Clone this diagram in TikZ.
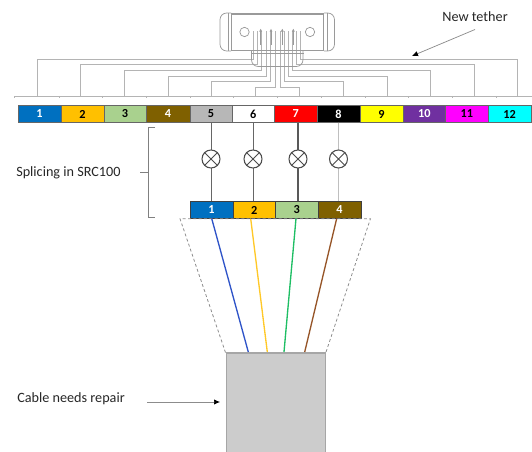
\documentclass[tikz,border=0pt]{standalone}
\usepackage{fontspec}
\setmainfont{Carlito}
\usetikzlibrary{arrows.meta,shapes.misc}
\definecolor{tline}{HTML}{B4B4B4}
\definecolor{conn}{HTML}{9A9A9A}
\definecolor{txt}{HTML}{262626}
\tikzset{
  cell/.style={draw=#1,line width=0.7pt,inner sep=0pt,minimum height=12.2pt,font=\fontsize{9.2}{10}\selectfont\bfseries},
  tether/.style={draw=tline,line width=0.55pt},
  body/.style={draw=conn,line width=0.55pt},
  ringnode/.style={draw=black!70,line width=0.8pt,circle,minimum size=13.5pt,inner sep=0pt},
  label/.style={font=\fontsize{10.65}{12}\selectfont,text=txt,inner sep=0pt},
  wire/.style={line width=1pt},
  dashbox/.style={draw=black!45,line width=0.6pt,dash pattern=on 2.2pt off 1.8pt},
  pointer/.style={draw=black!45,line width=0.55pt,-{Latex[length=4.5pt,width=4pt,black]}}
}
\begin{document}
\begin{tikzpicture}[x=0.75pt,y=-0.75pt]
\useasboundingbox (0,0) rectangle (532,452);
% tether rail
\coordinate (railL) at (14,96);
\coordinate (railR) at (532,96);
\draw[tether] (railL) -- (railR);
\foreach \x in {14,59,102,146,190,233,277,321,365,408,452,496}
  \draw[tether] (\x,96) -- (\x,98.5);
% tether lines
\foreach \i/\xd/\yh/\xp in {
  1/37/59/253.3, 2/80/64.5/257.3, 3/124/70/261.7, 4/168/76/266.7, 5/211/81/270.7, 6/255/87/275,
  7/299/87/280, 8/343/81/284, 9/387/76/288.3, 10/430/70/292.7, 11/474/64.5/296.7, 12/517/59/300.7}{
  \coordinate (d\i) at (\xd,96);
  \coordinate (p\i) at (\xp,31);
  \draw[tether] (d\i) -- (\xd,\yh) -- (\xp,\yh) -- (p\i);
}
% connector
\draw[body] (231,13) -- (324,13) (231,14.2) -- (324,14.2);
\draw[body,rounded corners=5pt] (231,13) -- (220,13) -- (220,51) -- (231,51);
\draw[body,rounded corners=5pt] (324,13) -- (334.5,13) -- (334.5,51) -- (324,51);
\draw[body] (228,13) -- (228,51) (231.5,13) -- (231.5,51);
\draw[body] (323.5,13) -- (323.5,51) (327,13) -- (327,51);
\draw[body] (231,50.5) -- (324,50.5) (251,53.3) -- (304,53.3);
\draw[body,rounded corners=5pt] (251.5,50.5) -- (251.5,66.5) -- (303,66.5) -- (303,50.5);
\node[draw=conn,line width=0.55pt,circle,minimum size=7pt,inner sep=0pt] (holeL) at (244.5,32) {};
\node[draw=conn,line width=0.55pt,circle,minimum size=7pt,inner sep=0pt] (holeR) at (310,32) {};
\foreach \x in {260.7,271,282.3,293.3}
  \draw[body,-{Latex[length=2.4pt,width=2.4pt]}] (\x,45) -- (\x,28.5);
% top ribbon
\foreach \i/\xa/\xb/\hc/\tc in {1/18/61/0070C0/white,2/61/104/FFC000/black,3/104/146/A9D18E/black,4/146/190/7F6000/white,5/190/232/B7B7B7/black,6/232/274.5/FFFFFF/black,7/274.5/317/FF0000/white,8/317/360/000000/white,9/360/403/FFFF00/black,10/403/445.5/7030A0/white,11/445.5/488/FF00FF/black,12/488/531/00FFFF/black}{
  \definecolor{cc}{HTML}{\hc}
  \pgfmathsetmacro{\cw}{(\xb-\xa)*0.75}
  \node[cell=black!60,fill=cc,text=\tc,minimum width=\cw pt] (t\i) at ({(\xa+\xb)/2},114) {\i};
}
% lower ribbon
\foreach \i/\xa/\xb/\hc/\tc in {1/190/233/0070C0/white,2/233/275.7/FFC000/black,3/275.7/318/A9D18E/black,4/318/361/7F6000/white}{
  \definecolor{cc}{HTML}{\hc}
  \pgfmathsetmacro{\cw}{(\xb-\xa)*0.75}
  \node[cell=black!75,fill=cc,text=\tc,minimum width=\cw pt] (b\i) at ({(\xa+\xb)/2},210) {\i};
}
% splices
\coordinate (sc1) at (211,159);
\coordinate (sc2) at (253,159);
\coordinate (sc3) at (298,159);
\coordinate (sc4) at (338.5,159);
\draw[line width=0.75pt,black!60] (sc1 |- t5.south) -- (sc1 |- b1.north);
\draw[line width=0.75pt,black!60] (sc2 |- t6.south) -- (sc2 |- b2.north);
\draw[line width=0.8pt,black!65] (sc3 |- t7.south) -- (sc3 |- b3.north);
\draw[line width=0.75pt,black!25] (sc4 |- t8.south) -- (sc4 |- b4.north);
\foreach \i in {1,2,3,4}{
  \node[ringnode,fill=white] (s\i) at (sc\i) {};
  \draw[line width=0.75pt,black!70] (s\i.45) -- (s\i.225) (s\i.135) -- (s\i.315);
}
% cable
\node[draw=black!35,fill=black!20,line width=0.9pt,inner sep=0pt,minimum width=74.4pt,minimum height=79pt,anchor=north west] (cable) at (225.5,352.5) {};
\coordinate (fanL) at (180,218.7);
\coordinate (fanR) at (370.5,218.7);
\draw[dashbox] (cable.north west) -- (fanL) -- (fanR) -- (cable.north east);
\coordinate (w1a) at (211.7,218.5); \coordinate (w1b) at (248.3,352);
\coordinate (w2a) at (250.7,218.5); \coordinate (w2b) at (267.3,352);
\coordinate (w3a) at (296,218.5);   \coordinate (w3b) at (284,352);
\coordinate (w4a) at (336.7,218.5); \coordinate (w4b) at (304.7,352);
\draw[wire,draw={rgb,255:red,47;green,84;blue,200}] (w1a) -- (w1b);
\draw[wire,draw={rgb,255:red,255;green,200;blue,40}] (w2a) -- (w2b);
\draw[wire,draw={rgb,255:red,30;green,190;blue,100}] (w3a) -- (w3b);
\draw[wire,draw={rgb,255:red,150;green,85;blue,40}] (w4a) -- (w4b);
% brace
\draw[draw=black!50,line width=0.55pt] (155,127) -- (148,127) -- (148,217) -- (155,217) (140,172) -- (148,172);
% labels
\node[label,anchor=west] (splabel) at (16,172.5) {Splicing in SRC100};
\node[label,anchor=west] (cablabel) at (17,399) {Cable needs repair};
\node[label] (newlabel) at (475,17) {New tether};
\coordinate (cabarrowS) at (147,402);
\coordinate (cabarrowE) at (220,402);
\coordinate (newarrowS) at (475,29.5);
\coordinate (newarrowE) at (412,56);
\draw[pointer] (cabarrowS) -- (cabarrowE);
\draw[pointer] (newarrowS) -- (newarrowE);
\end{tikzpicture}
\end{document}
